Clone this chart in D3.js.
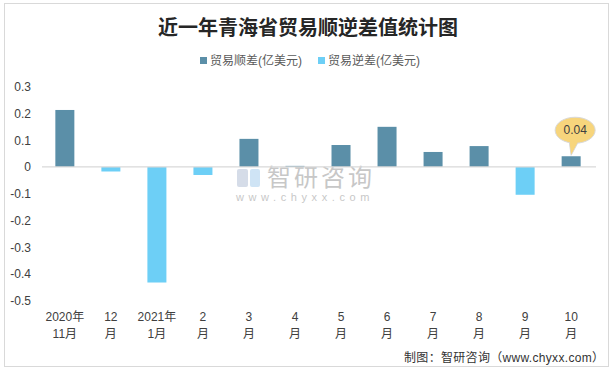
<!DOCTYPE html>
<head>
    <meta charset="utf-8">
    <title>近一年青海省贸易顺逆差值统计图</title>
    <style>
        body { margin: 0; background: #fff; }
        text { font-family: "Liberation Sans", "Noto Sans CJK SC", sans-serif; }
    </style>
</head>
<body>
<svg width="613" height="370"></svg>

<script src="https://d3js.org/d3.v7.min.js"></script>
<script>

    // data
    var months = ["2020年|11月", "12|月", "2021年|1月", "2|月", "3|月", "4|月", "5|月", "6|月", "7|月", "8|月", "9|月", "10|月"];
    var surplus = [0.213, 0, 0, 0, 0.105, 0.004, 0.082, 0.15, 0.056, 0.078, 0, 0.04];   // 贸易顺差
    var deficit = [0, -0.017, -0.432, -0.03, 0, 0, 0, 0, 0, 0, -0.104, 0];             // 贸易逆差
    var yTicks = [0.3, 0.2, 0.1, 0, -0.1, -0.2, -0.3, -0.4, -0.5];
    var seriesNames = ["贸易顺差(亿美元)", "贸易逆差(亿美元)"];
    var seriesColors = ["#5b8fa8", "#6dcff6"];

    var svg = d3.select("svg");

    // outer frame
    svg.append("rect")
        .attr("x", 4.5).attr("y", 3.5)
        .attr("width", 604).attr("height", 363)
        .attr("fill", "#fff")
        .attr("stroke", "#d9d9d9");

    // title
    svg.append("text")
        .attr("x", 308).attr("y", 35)
        .attr("text-anchor", "middle")
        .attr("font-family", "Noto Sans CJK SC")
        .attr("font-weight", "bold")
        .attr("font-size", 20)
        .attr("fill", "#262626")
        .text("近一年青海省贸易顺逆差值统计图");

    // legend
    var legendX = [200, 318];
    var legend = svg.append("g").attr("class", "legend");
    seriesNames.forEach(function (name, i) {
        legend.append("rect")
            .attr("x", legendX[i]).attr("y", 57)
            .attr("width", 7).attr("height", 7)
            .attr("fill", seriesColors[i]);
        legend.append("text")
            .attr("x", legendX[i] + 10).attr("y", 65)
            .attr("font-family", "Noto Sans CJK SC")
            .attr("font-size", 12)
            .attr("fill", "#595959")
            .text(name);
    });

    var x = d3.scaleBand()
        .domain(months)
        .range([42, 594])
        .paddingInner(0.587)
        .paddingOuter(0.29);

    var y = d3.scaleLinear()
        .domain([-0.5, 0.3])
        .range([300.7, 86.7]);

    // y axis labels only
    var yAxis = svg.append("g")
        .attr("transform", "translate(31,0)")
        .call(d3.axisLeft(y)
            .tickValues(yTicks)
            .tickSize(0)
            .tickPadding(0)
            .tickFormat(function (d) {
                return d === 0 ? "0" : d3.format(".1f")(d).replace("−", "-");
            }));
    yAxis.select(".domain").remove();
    yAxis.selectAll("text")
        .attr("font-size", 12)
        .attr("font-family", "Liberation Sans")
        .attr("fill", "#404040");

    // watermark
    var wm = svg.append("g").attr("opacity", 0.55);
    wm.append("rect").attr("x", 237).attr("y", 169).attr("width", 11).attr("height", 18).attr("rx", 2).attr("fill", "#b4c0d6");
    wm.append("rect").attr("x", 250).attr("y", 169).attr("width", 10).attr("height", 18).attr("rx", 2).attr("fill", "#a9cfee");
    wm.append("text")
        .attr("x", 267).attr("y", 186)
        .attr("font-family", "Noto Sans CJK SC")
        .attr("font-size", 24)
        .attr("letter-spacing", 3)
        .attr("fill", "#9a9a9a")
        .text("智研咨询");
    wm.append("text")
        .attr("x", 236).attr("y", 201)
        .attr("font-size", 11)
        .attr("letter-spacing", 4.6)
        .attr("fill", "#9a9a9a")
        .text("www.chyxx.com");

    // bars
    var bars = svg.append("g").attr("class", "bars");
    [surplus, deficit].forEach(function (values, s) {
        bars.selectAll(".s" + s)
            .data(values.map(function (v, i) { return { m: months[i], v: v }; })
                .filter(function (d) { return d.v !== 0; }))
            .enter().append("rect")
            .attr("class", "s" + s)
            .attr("x", function (d) { return x(d.m); })
            .attr("width", x.bandwidth())
            .attr("y", function (d) { return y(Math.max(0, d.v)); })
            .attr("height", function (d) { return Math.abs(y(d.v) - y(0)); })
            .attr("fill", seriesColors[s]);
    });

    // zero line
    svg.append("line")
        .attr("x1", 42).attr("x2", 596)
        .attr("y1", y(0)).attr("y2", y(0))
        .attr("stroke", "#d9d9d9")
        .attr("stroke-width", 1.2);

    // x labels, two lines each
    var xl = svg.append("g").attr("class", "xlabels");
    months.forEach(function (m) {
        var parts = m.split("|");
        var cx = x(m) + x.bandwidth() / 2;
        var t = xl.append("text")
            .attr("text-anchor", "middle")
            .attr("font-size", 12)
            .attr("fill", "#404040");
        t.append("tspan").attr("x", cx).attr("y", 321).text(parts[0]);
        t.append("tspan").attr("x", cx).attr("y", 338).text(parts[1]);
    });

    // callout on the last bar
    var last = months.length - 1;
    var bx = x(months[last]) + x.bandwidth() / 2;
    var by = y(surplus[last]);
    var cx = bx + 4, cy = by - 26;
    var call = svg.append("g").attr("class", "callout");
    call.append("path")
        .attr("d", "M" + (cx - 6) + "," + (cy + 11) + " L" + bx + "," + (by - 1) + " L" + (cx + 3) + "," + (cy + 12) + " Z")
        .attr("fill", "#f7d57c")
        .attr("stroke", "#d9d9d9");
    call.append("ellipse")
        .attr("cx", cx).attr("cy", cy)
        .attr("rx", 20).attr("ry", 13)
        .attr("fill", "#f7d57c")
        .attr("stroke", "#d9d9d9");
    call.append("path")
        .attr("d", "M" + (cx - 5.5) + "," + (cy + 11) + " L" + bx + "," + (by - 2) + " L" + (cx + 2.5) + "," + (cy + 12) + " Z")
        .attr("fill", "#f7d57c");
    call.append("text")
        .attr("x", cx).attr("y", cy + 4)
        .attr("text-anchor", "middle")
        .attr("font-size", 12)
        .attr("fill", "#404040")
        .text(d3.format(".2f")(surplus[last]));

    // source note
    svg.append("text")
        .attr("x", 404).attr("y", 362)
        .attr("textLength", 200)
        .attr("lengthAdjust", "spacing")
        .attr("font-family", "'DejaVu Sans Mono', 'Noto Sans CJK SC'")
        .attr("font-size", 12)
        .attr("fill", "#333")
        .text("制图：智研咨询（www.chyxx.com）");

</script>
</body>
